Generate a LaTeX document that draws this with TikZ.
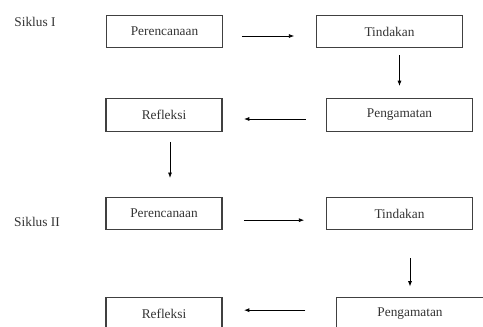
\documentclass[tikz,border=0pt]{standalone}
\usepackage{fontspec}
\setmainfont{Liberation Serif}
\usetikzlibrary{arrows.meta}

\begin{document}
\begin{tikzpicture}[
		x=0.75pt, y=-0.75pt, >={Latex[length=4pt,width=3pt]}, line width=0.6pt,
		every node/.style={font=\fontsize{10}{12}\selectfont, text=black!80},
		stage/.style={draw=black!75, line width=0.9pt, minimum height=24.5pt}, % one box of a cycle
		narrow/.style={stage, minimum width=87pt},
		wide/.style={stage, minimum width=110pt},
	]
	\useasboundingbox (0,0) rectangle (483,327);
	\clip (0,0) rectangle (483,327);

	% --- cycle labels
	\node (s1) at (35,22) {Siklus I};
	\node (s2) at (37,222) {Siklus II};

	% --- first cycle
	\node[narrow] (pl1) at (164.5,31.5) {Perencanaan};
	\node[wide]   (td1) at (389.5,31.5) {Tindakan};
	\node[wide]   (pg1) at (399.5,115) {Pengamatan};
	\node[narrow] (rf1) at (164,115) {Refleksi};

	% --- second cycle
	\node[narrow] (pl2) at (164,213.5) {Perencanaan};
	\node[wide]   (td2) at (399.5,213.5) {Tindakan};
	\node[wide]   (pg2) at (410,313.5) {Pengamatan};
	\node[narrow] (rf2) at (164,313.5) {Refleksi};

	% --- arrows of the first cycle
	\draw[->, shorten <=14pt, shorten >=16pt] ([yshift=-3.4pt]pl1.east) -- ([yshift=-3.4pt]td1.west);
	\draw[->, shorten <=5pt, shorten >=9pt] (td1.south -| pg1) -- (pg1.north);
	\draw[->, shorten <=15pt, shorten >=16pt] ([yshift=-3pt]pg1.west) -- ([yshift=-3pt]rf1.east);

	% --- from the first cycle to the second
	\draw[->, shorten <=7.5pt, shorten >=14pt] ([xshift=4.5pt]rf1.south) -- ([xshift=4.5pt]pl2.north);

	% --- arrows of the second cycle
	\draw[->, shorten <=16pt, shorten >=16pt] ([yshift=-5pt]pl2.east) -- ([yshift=-5pt]td2.west);
	\draw[->, shorten <=21pt, shorten >=7.5pt] (td2.south -| pg2) -- (pg2.north);
	\draw[->, shorten <=23pt, shorten >=16pt] ([yshift=2.5pt]pg2.west) -- ([yshift=2.5pt]rf2.east);
\end{tikzpicture}
\end{document}
